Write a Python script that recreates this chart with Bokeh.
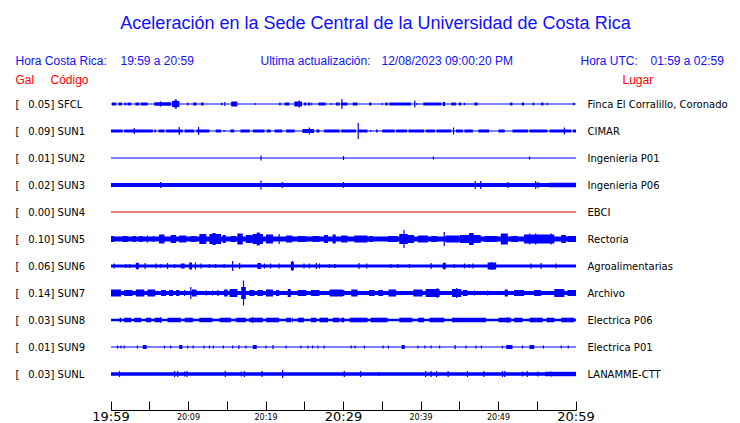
from bokeh.plotting import figure
from bokeh.models import Range1d, LinearAxis, FixedTicker
from bokeh.core.properties import value
from bokeh.embed import file_html
from bokeh.resources import INLINE

# ---------------- data ----------------
CODES = ["SFCL", "SUN1", "SUN2", "SUN3", "SUN4", "SUN5", "SUN6", "SUN7", "SUN8", "SUN9", "SUNL"]
GAL = [0.05, 0.09, 0.01, 0.02, 0.00, 0.10, 0.06, 0.14, 0.03, 0.01, 0.03]
PLACES = ["Finca El Corralillo, Coronado", "CIMAR", "Ingenieria P01", "Ingenieria P06", "EBCI",
          "Rectoria", "Agroalimentarias", "Archivo", "Electrica P06", "Electrica P01", "LANAMME-CTT"]
# continuous background noise level of each trace (half amplitude, relative units)
BASE = [0.0, 0.0, 0.0, 1.9, 0.0, 2.5, 1.5, 2.0, 1.2, 0.0, 1.7]

# minutes after 19:59
TICK_MIN = [0, 5, 10, 15, 20, 25, 30, 35, 40, 45, 50, 55, 60]
SMALL_LABELS = {10: "20:09", 20: "20:19", 40: "20:39", 50: "20:49"}
BIG_TICKS = [0, 30, 60]
BIG_LABELS = ["19:59", "20:29", "20:59"]

# bursts: (start minute, end minute, half amplitude); start == end -> single spike
SFCL_EV = [(0.13, 0.65, 1.5), (0.99, 1.42, 1.5), (1.72, 2.02, 1.2), (2.15, 2.58, 1.5), (3.14, 3.66, 1.5),
           (3.87, 4.73, 1.5), (5.59, 7.74, 1.8), (6.4, 6.4, 2.5), (7.87, 8.82, 3.0), (8.2, 8.5, 4.5),
           (9.9, 9.9, 1.5), (10.6, 11.05, 1.5), (11.6, 11.96, 1.5), (14.2, 14.4, 1.2), (14.6, 14.75, 2.0),
           (15.5, 16.3, 2.5), (18.6, 18.6, 1.0), (21.7, 21.9, 1.5), (22.4, 23.0, 1.5), (23.65, 24.65, 2.5),
           (24.3, 24.3, 3.5), (24.9, 25.2, 1.5), (25.4, 25.7, 1.5), (25.9, 25.9, 1.2), (26.75, 27.7, 1.5),
           (28.4, 28.4, 1.0), (29.0, 29.5, 1.5), (29.8, 29.8, 5.0), (29.7, 30.5, 1.5), (31.2, 31.8, 1.5),
           (33.3, 33.6, 1.5), (35.0, 35.0, 1.0), (35.4, 35.7, 1.5), (35.9, 38.7, 1.5), (39.2, 39.2, 3.5),
           (39.5, 39.5, 1.0), (40.3, 42.6, 1.5), (42.8, 43.1, 2.0), (43.9, 44.5, 1.5), (44.9, 45.2, 1.5),
           (45.6, 45.6, 1.2), (46.9, 47.3, 1.5), (51.5, 51.8, 1.5), (53.0, 53.3, 1.5), (54.4, 54.6, 1.5),
           (55.5, 55.8, 1.5), (56.3, 56.3, 1.2), (59.6, 59.8, 1.2)]
SUN1_EV = [(0.0, 1.5, 1.5), (1.7, 3.0, 1.5), (3.0, 3.0, 3.0), (3.1, 5.4, 1.5), (5.6, 5.8, 1.5), (6.15, 6.9, 1.5),
           (7.1, 9.25, 1.5), (8.8, 8.8, 4.0), (9.5, 10.75, 1.5), (11.0, 12.7, 1.5), (11.3, 11.3, 4.0),
           (13.5, 14.2, 1.5), (14.6, 14.6, 1.0), (15.4, 15.9, 1.5), (16.7, 17.9, 1.5), (18.3, 19.8, 1.5),
           (20.1, 20.6, 1.5), (21.1, 22.1, 1.5), (22.6, 23.7, 1.5), (24.7, 26.2, 2.0), (25.6, 25.6, 3.5),
           (26.5, 26.9, 1.5), (27.5, 29.5, 1.5), (29.7, 31.6, 1.5), (31.9, 31.9, 8.0), (32.0, 33.1, 1.5),
           (33.5, 33.5, 1.0), (34.2, 34.4, 1.5), (35.0, 36.6, 1.5), (36.8, 38.2, 1.5), (38.4, 40.4, 1.5),
           (40.6, 41.8, 1.5), (42.0, 43.9, 1.5), (44.2, 44.2, 3.5), (44.5, 45.4, 1.5), (45.6, 46.7, 1.5),
           (47.4, 48.8, 1.5), (50.0, 50.8, 1.5), (51.8, 53.8, 1.5), (54.0, 56.3, 1.5), (56.6, 59.4, 1.5),
           (58.5, 58.5, 3.5), (59.6, 60.0, 1.5)]
SUN2_EV = [(19.35, 19.35, 2.5), (30.0, 30.0, 2.0), (41.6, 41.6, 1.5), (54.0, 54.0, 1.5)]
SUN3_EV = [(6.4, 6.4, 3.0), (19.35, 19.35, 4.5), (22.1, 22.1, 3.0), (30.0, 30.0, 3.0), (47.0, 47.0, 4.0),
           (47.7, 47.7, 4.0), (51.2, 51.2, 3.0), (54.8, 54.8, 4.0), (55.1, 55.1, 3.0), (56.5, 60.0, 2.3)]
SUN4_EV = []
SUN5_EV = [(0.0, 0.4, 3.0), (1.5, 2.15, 3.0), (2.8, 3.2, 3.0), (3.65, 4.1, 3.0), (4.7, 4.7, 3.5), (5.4, 5.6, 3.0),
           (6.2, 6.9, 4.5), (7.7, 8.4, 4.0), (8.8, 9.7, 3.5), (10.3, 11.0, 3.0), (11.4, 12.3, 5.0),
           (12.7, 14.2, 5.0), (13.1, 13.5, 6.0), (14.4, 14.8, 4.0), (15.5, 16.1, 3.0), (16.3, 17.0, 5.5),
           (17.4, 18.3, 4.0), (18.3, 19.6, 5.0), (18.8, 19.2, 6.5), (20.0, 20.9, 4.5), (21.7, 21.7, 5.0),
           (22.6, 23.4, 3.5), (24.1, 25.2, 3.0), (26.0, 26.9, 3.0), (27.5, 28.0, 4.0), (28.6, 29.0, 4.5),
           (29.7, 30.5, 3.5), (31.4, 33.1, 3.5), (33.3, 33.8, 3.0), (35.7, 37.0, 3.0), (37.2, 38.3, 5.0),
           (37.8, 37.8, 9.0), (38.3, 39.1, 4.0), (39.6, 40.9, 3.5), (41.3, 42.1, 3.0), (43.0, 43.0, 7.0),
           (43.2, 44.9, 3.5), (45.0, 47.7, 4.0), (46.2, 46.8, 6.0), (48.2, 49.9, 3.0), (50.3, 51.2, 5.5),
           (51.6, 52.5, 3.0), (53.3, 55.1, 4.5), (54.0, 54.0, 5.5), (54.8, 54.8, 5.5), (55.1, 57.2, 4.5),
           (56.8, 56.8, 5.5), (58.1, 58.7, 4.0), (58.9, 60.0, 3.0)]
SUN6_EV = [(0.4, 0.4, 2.5), (1.9, 1.9, 2.0), (2.4, 2.4, 2.0), (3.2, 3.6, 3.0), (3.4, 3.4, 3.5), (4.4, 4.4, 3.0),
           (5.8, 5.8, 2.5), (6.45, 6.45, 2.0), (7.3, 7.3, 3.0), (8.2, 8.2, 2.0), (9.0, 9.5, 2.5),
           (10.1, 10.45, 3.5), (10.9, 10.9, 3.5), (11.6, 11.6, 2.5), (12.7, 12.7, 2.0), (13.5, 13.5, 2.0),
           (14.6, 14.6, 2.0), (15.7, 15.7, 5.0), (16.6, 16.6, 3.0), (18.9, 19.35, 3.0), (19.8, 19.8, 2.5),
           (20.6, 20.6, 2.5), (21.7, 21.7, 2.5), (23.2, 23.6, 4.0), (23.4, 23.4, 5.0), (24.9, 24.9, 2.5),
           (25.6, 25.6, 2.5), (26.5, 26.5, 3.0), (26.9, 26.9, 2.5), (28.2, 28.2, 2.0), (28.8, 29.0, 2.0),
           (32.0, 32.0, 3.0), (33.0, 33.0, 2.5), (36.1, 36.1, 2.0), (37.0, 37.0, 2.0), (38.5, 38.5, 2.0),
           (41.3, 41.3, 3.0), (42.8, 43.2, 3.0), (43.0, 43.0, 3.5), (44.3, 44.3, 2.0), (45.6, 45.6, 2.5),
           (46.2, 46.2, 2.0), (46.7, 46.7, 2.5), (48.6, 49.7, 3.5), (49.1, 49.1, 4.0), (54.2, 54.2, 2.5),
           (55.5, 55.5, 3.0), (57.4, 57.4, 2.5)]
SUN7_EV = [(0.0, 1.3, 3.5), (1.7, 2.8, 3.0), (3.2, 4.3, 3.5), (4.7, 5.7, 3.5), (6.45, 7.1, 3.0), (7.5, 8.0, 3.0),
           (8.4, 8.8, 3.0), (9.5, 9.5, 3.0), (10.3, 10.3, 6.0), (10.45, 11.05, 3.5), (12.3, 12.3, 2.5),
           (13.1, 13.1, 2.5), (13.8, 13.8, 3.0), (14.6, 15.05, 3.5), (15.3, 16.3, 4.0), (16.8, 17.4, 6.0),
           (17.1, 17.1, 12.5), (17.85, 18.5, 3.0), (18.9, 19.6, 3.0), (20.0, 20.9, 3.5), (21.3, 21.7, 3.0),
           (22.8, 23.2, 4.0), (24.1, 25.2, 3.0), (25.8, 26.9, 3.0), (28.2, 29.9, 3.5), (29.7, 30.1, 3.0),
           (31.0, 31.8, 3.5), (33.3, 34.0, 3.0), (34.5, 35.1, 3.0), (35.8, 36.8, 3.5), (39.0, 40.2, 3.5),
           (40.6, 42.4, 4.0), (42.1, 42.1, 5.0), (44.0, 45.2, 4.0), (44.6, 44.6, 5.0), (45.4, 46.0, 3.0),
           (46.9, 46.9, 2.5), (48.6, 48.6, 2.5), (50.8, 51.2, 3.5), (52.0, 53.3, 3.0), (54.6, 55.5, 3.0),
           (57.2, 58.5, 4.0), (58.9, 60.0, 3.0)]
SUN8_EV = [(1.1, 1.3, 2.3), (1.7, 2.6, 2.3), (3.0, 3.9, 2.3), (4.5, 5.2, 2.3), (5.6, 6.45, 2.3), (6.45, 6.45, 3.0),
           (7.3, 9.0, 2.3), (9.5, 10.6, 2.3), (11.4, 13.1, 2.3), (14.0, 15.5, 2.3), (16.1, 17.4, 2.3),
           (17.85, 19.6, 2.3), (18.3, 18.3, 3.0), (20.0, 21.7, 2.3), (22.6, 23.2, 2.3), (23.4, 23.4, 2.3),
           (24.1, 24.9, 2.3), (25.8, 26.5, 2.3), (26.9, 28.0, 2.3), (28.6, 29.5, 2.3), (29.7, 30.1, 2.3),
           (30.8, 33.1, 2.3), (33.5, 35.7, 2.3), (37.2, 38.9, 2.3), (39.6, 40.4, 2.3), (41.1, 43.0, 2.3),
           (44.0, 48.4, 2.3), (50.0, 51.6, 2.3), (51.2, 51.2, 3.0), (52.0, 53.1, 2.3), (54.0, 55.7, 2.3),
           (56.2, 57.2, 2.3), (58.1, 59.8, 2.3)]
SUN9_EV = [(0.86, 0.86, 1.5), (1.29, 1.29, 1.5), (1.7, 1.7, 1.5), (3.4, 3.4, 1.5), (4.1, 4.6, 2.0),
           (6.9, 6.9, 1.5), (7.7, 7.7, 1.5), (8.8, 9.2, 2.0), (9.9, 9.9, 1.5), (10.6, 10.6, 1.5),
           (12.0, 12.0, 1.5), (12.7, 12.7, 1.5), (13.2, 13.2, 1.5), (14.5, 14.5, 1.5), (15.7, 15.7, 1.5),
           (16.5, 16.5, 2.0), (17.4, 17.4, 1.5), (18.3, 18.8, 2.0), (20.0, 20.0, 1.5), (20.9, 20.9, 2.0),
           (22.6, 22.6, 1.5), (24.5, 24.5, 1.5), (25.4, 25.4, 1.5), (26.0, 26.0, 1.5), (26.7, 26.7, 1.5),
           (27.5, 27.5, 1.5), (31.0, 31.0, 1.5), (31.5, 31.5, 1.5), (32.7, 32.7, 1.5), (35.1, 35.1, 1.5),
           (35.8, 35.8, 1.5), (37.5, 37.9, 2.0), (39.6, 39.6, 1.5), (40.5, 40.5, 1.5), (41.3, 41.3, 1.5),
           (42.4, 42.4, 1.5), (44.4, 44.4, 2.0), (45.8, 45.8, 1.5), (47.1, 47.1, 1.5), (47.8, 47.8, 1.5),
           (50.5, 50.5, 1.5), (51.0, 51.8, 2.0), (53.1, 53.1, 1.5), (54.0, 54.6, 2.0), (55.8, 55.8, 1.5),
           (58.1, 58.1, 1.5), (59.0, 59.0, 1.5)]
SUNL_EV = [(1.1, 1.1, 3.0), (8.2, 8.2, 3.0), (8.6, 8.6, 3.0), (9.5, 9.5, 2.5), (9.8, 9.8, 3.0),
           (14.75, 14.75, 3.0), (16.8, 16.8, 2.5), (17.2, 17.2, 3.0), (19.5, 19.5, 3.0), (22.15, 22.15, 4.0),
           (30.1, 30.1, 3.0), (32.2, 32.2, 3.0), (34.6, 34.6, 2.0), (40.6, 40.6, 3.0), (41.3, 41.3, 3.0),
           (42.0, 42.0, 3.0), (43.5, 43.5, 3.0), (46.0, 46.0, 3.0), (48.1, 48.1, 3.0), (50.5, 50.5, 3.0),
           (50.8, 50.8, 3.0), (53.1, 53.1, 2.5), (53.7, 53.7, 3.0), (55.1, 55.1, 2.5), (56.8, 56.8, 2.5),
           (56.0, 60.0, 2.2)]
EVENTS = [SFCL_EV, SUN1_EV, SUN2_EV, SUN3_EV, SUN4_EV, SUN5_EV, SUN6_EV, SUN7_EV, SUN8_EV, SUN9_EV, SUNL_EV]
TRACE_COLORS = ["blue"] * 4 + ["#e00000"] + ["blue"] * 6

# ---------------- layout helpers ----------------
W, H = 740, 423
X0, PX_PER_MIN = 110.5, 7.75      # pixel of 19:59 and pixels per minute
Y0, PX_PER_ROW = 103.5, 27.0      # pixel of first trace and row spacing


def xd(px):
    return (px - X0) / PX_PER_MIN


def yd(py):
    return (py - Y0) / PX_PER_ROW


A = 1.0 / PX_PER_ROW  # amplitude unit in row units

p = figure(width=W, height=H, output_backend="svg", toolbar_location=None,
           x_range=Range1d(xd(0), xd(W)), y_range=Range1d(yd(H), yd(0)),
           x_axis_type=None, y_axis_type=None, min_border=0)
p.outline_line_color = None
p.background_fill_color = "white"
p.border_fill_color = "white"

T0, T1 = TICK_MIN[0], TICK_MIN[-1]

# traces
for i, ev in enumerate(EVENTS):
    col = TRACE_COLORS[i]
    b = BASE[i]
    if b > 0:
        p.quad(left=[T0], right=[T1], top=[i - b * A], bottom=[i + b * A], fill_color=col, line_color=None)
    else:
        p.segment(x0=[T0], y0=[i], x1=[T1], y1=[i], line_color=col, line_width=1)
    bl, br, bt, bb = [], [], [], []
    sx, sy0, sy1 = [], [], []
    for (t0, t1, a) in ev:
        if t1 > t0:
            bl.append(t0); br.append(t1); bt.append(i - a * A); bb.append(i + a * A)
        else:
            sx.append(t0); sy0.append(i - a * A); sy1.append(i + a * A)
    if bl:
        p.quad(left=bl, right=br, top=bt, bottom=bb, fill_color=col, line_color=None)
    if sx:
        p.segment(x0=sx, y0=sy0, x1=sx, y1=sy1, line_color=col, line_width=1.2)

# time axis
ax = LinearAxis(fixed_location=yd(409.5), bounds=(T0, T1),
                ticker=FixedTicker(ticks=TICK_MIN, minor_ticks=[]),
                major_label_overrides={t: SMALL_LABELS.get(t, "") for t in TICK_MIN},
                major_tick_in=9, major_tick_out=0, minor_tick_in=0, minor_tick_out=0,
                major_tick_line_color="black", axis_line_color="black",
                major_label_standoff=3,
                major_label_text_font="DejaVu Sans", major_label_text_font_size="8px",
                major_label_text_color="black")
p.add_layout(ax, "below")

p.text(x=BIG_TICKS, y=[yd(415.5)] * 3, text=BIG_LABELS, text_font=value("DejaVu Sans"),
       text_font_size="13px", text_align="center", text_baseline="middle", text_color="black")

# station labels
n = len(CODES)
rows = list(range(n))
p.text(x=[xd(15)] * n, y=rows, text=["["] * n, text_font=value("DejaVu Sans"), text_font_size="10px",
       text_baseline="middle", text_color="black")
p.text(x=[xd(27.7)] * n, y=rows, text=[f"{g:.2f}] {c}" for g, c in zip(GAL, CODES)],
       text_font=value("DejaVu Sans"), text_font_size="10px", text_baseline="middle", text_color="black")
p.text(x=[xd(587)] * n, y=rows, text=PLACES, text_font=value("DejaVu Sans"), text_font_size="10px",
       text_baseline="middle", text_color="black")

# title and header
p.text(x=[xd(375)], y=[yd(22)], text=["Aceleración en la Sede Central de la Universidad de Costa Rica"],
       text_font=value("Liberation Sans"), text_font_size="18px", text_align="center",
       text_baseline="middle", text_color="#1010ff")
HEAD_TEXT = ["Hora Costa Rica:", "19:59 a 20:59", "Ultima actualización:", "12/08/2023 09:00:20 PM",
             "Hora UTC:", "01:59 a 02:59"]
HEAD_X = [15, 120, 260, 381, 580, 650]
p.text(x=[xd(v) for v in HEAD_X], y=[yd(60)] * len(HEAD_X), text=HEAD_TEXT,
       text_font=value("Liberation Sans"), text_font_size="12px", text_baseline="middle", text_color="#1010ff")
RED_TEXT = ["Gal", "Código", "Lugar"]
RED_X = [15, 50, 622]
p.text(x=[xd(v) for v in RED_X], y=[yd(79)] * 3, text=RED_TEXT,
       text_font=value("Liberation Sans"), text_font_size="12px", text_baseline="middle", text_color="#ff0000")

open("out.html", "w").write(file_html(p, INLINE))
